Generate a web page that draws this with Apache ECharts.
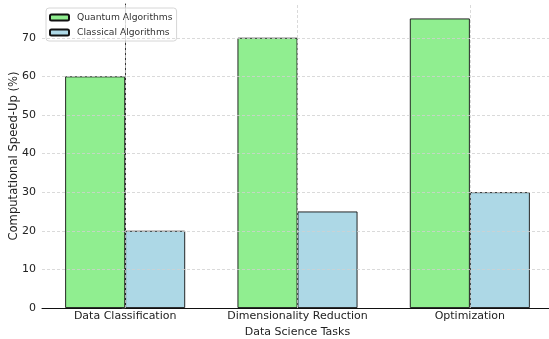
<!DOCTYPE html>
<html><head><meta charset="utf-8">
<script src="https://cdn.jsdelivr.net/npm/echarts@6/dist/echarts.min.js"></script>
</head><body style="margin:0;background:#fff">
<div id="c" style="width:549px;height:339px"></div>
<script>
const categories = ['Data Classification', 'Dimensionality Reduction', 'Optimization'];
const quantum = [60, 70, 75];
const classical = [20, 25, 30];
const yTicks = [0, 10, 20, 30, 40, 50, 60, 70];
const seriesNames = ['Quantum Algorithms', 'Classical Algorithms'];

const font = 'DejaVu Sans';
const chart = echarts.init(document.getElementById('c'), null, {renderer: 'canvas'});
const gridDash = {color: '#d0d0d0', type: [3, 2], width: 0.8};
chart.setOption({
  animation: false,
  textStyle: {fontFamily: font},
  grid: {left: 42, right: -4, top: 4, bottom: 31, containLabel: false, outerBoundsMode: 'none'},
  legend: {
    orient: 'vertical', left: 46, top: 8,
    data: seriesNames,
    itemWidth: 19, itemHeight: 6, itemGap: 6,
    padding: [5, 4, 4, 3],
    borderColor: '#d6d6d6', borderWidth: 1, borderRadius: 3,
    backgroundColor: 'rgba(255,255,255,0.85)',
    textStyle: {fontFamily: font, fontSize: 9.2, color: '#333', padding: [0, 0, 0, 3]}
  },
  xAxis: {
    type: 'value', min: -0.4826, max: 2.4826,
    name: 'Data Science Tasks', nameLocation: 'middle', nameGap: 18.5, nameMoveOverlap: false,
    nameTextStyle: {fontFamily: font, fontSize: 11, color: '#222'},
    axisLine: {show: true, lineStyle: {color: '#111', width: 1}},
    axisTick: {show: false},
    splitLine: {show: false},
    axisLabel: {
      customValues: [0, 1, 2],
      formatter: v => categories[Math.round(v)],
      fontFamily: font, fontSize: 11, color: '#222', margin: 3
    }
  },
  yAxis: {
    type: 'value', min: 0, max: 78.75,
    name: 'Computational Speed-Up (%)', nameLocation: 'middle', nameGap: 22, nameMoveOverlap: false,
    nameTextStyle: {fontFamily: font, fontSize: 11.6, color: '#222'},
    axisLine: {show: true, lineStyle: {color: '#333', width: 1}},
    axisTick: {show: true, customValues: yTicks, length: 3.5, lineStyle: {color: '#333'}},
    axisLabel: {customValues: yTicks, fontFamily: font, fontSize: 11, color: '#222', margin: 6},
    splitLine: {show: false}
  },
  series: [
    {
      name: 'grid', type: 'line', data: [], z: 0, silent: true,
      markLine: {
        symbol: 'none', silent: true, label: {show: false},
        lineStyle: gridDash,
        data: [0, 1, 2].map(v => ({xAxis: v})).concat(yTicks.slice(1).map(v => ({yAxis: v})))
      }
    },
    {
      name: seriesNames[0], type: 'bar', barWidth: 60, barGap: '0%', z: 2,
      itemStyle: {color: '#90EE90', borderColor: '#111', borderWidth: 0.9},
      data: quantum.map((v, i) => [i, v])
    },
    {
      name: seriesNames[1], type: 'bar', barWidth: 60, barGap: '0%', z: 2,
      itemStyle: {color: '#ADD8E6', borderColor: '#111', borderWidth: 0.9},
      data: classical.map((v, i) => [i, v])
    }
  ]
});
</script>
</body></html>
